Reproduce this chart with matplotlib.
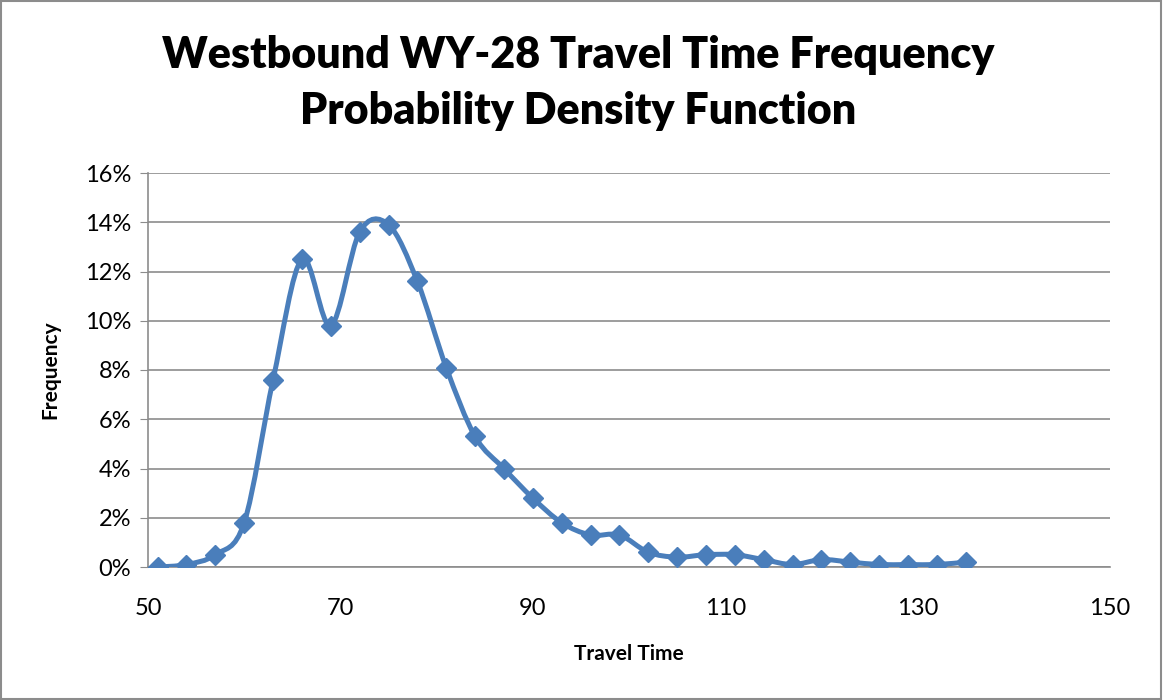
import numpy as np
import matplotlib.pyplot as plt
from matplotlib.path import Path
from matplotlib.patches import PathPatch, Rectangle
from matplotlib.ticker import PercentFormatter

plt.rcParams['font.family'] = ['Lato', 'DejaVu Sans']

# data
travel_time = [51, 54, 57, 60, 63, 66, 69, 72, 75, 78, 81, 84, 87, 90, 93,
               96, 99, 102, 105, 108, 111, 114, 117, 120, 123, 126, 129, 132, 135]
frequency = [0.0, 0.1, 0.5, 1.8, 7.6, 12.5, 9.8, 13.6, 13.9, 11.6, 8.1, 5.3, 4.0, 2.8, 1.8,
             1.3, 1.3, 0.6, 0.4, 0.5, 0.5, 0.3, 0.1, 0.3, 0.2, 0.1, 0.1, 0.1, 0.2]

line_color = '#4a7ebb'


def smooth_path(x, y):
    # Excel style smoothed line: cubic bezier through the points
    pts = np.column_stack([x, y]).astype(float)
    n = len(pts)
    verts = [pts[0]]
    codes = [Path.MOVETO]
    for i in range(n - 1):
        p0 = pts[max(i - 1, 0)]
        p1 = pts[i]
        p2 = pts[i + 1]
        p3 = pts[min(i + 2, n - 1)]
        c1 = p1 + (p2 - p0) / 6.0
        c2 = p2 - (p3 - p1) / 6.0
        verts += [c1, c2, p2]
        codes += [Path.CURVE4] * 3
    return Path(verts, codes)


fig = plt.figure(figsize=(11.63, 7.0), dpi=100)
ax = fig.add_axes([148 / 1163, 1 - 567 / 700, (1110 - 148) / 1163, (567 - 173) / 700])

ax.add_patch(PathPatch(smooth_path(travel_time, frequency), facecolor='none',
                       edgecolor=line_color, lw=3.6, zorder=3, capstyle='round'))
ax.plot(travel_time, frequency, ls='none', marker='D', ms=10.5, color=line_color, zorder=4)

ax.set_xlim(50, 150)
ax.set_ylim(0, 16)
ax.set_xticks(np.arange(50, 151, 20))
ax.set_yticks(np.arange(0, 17, 2))
ax.yaxis.set_major_formatter(PercentFormatter(decimals=0))
ax.grid(axis='y', color='#8c8c8c', lw=1.2)
ax.set_axisbelow(True)
for s in ['top', 'right']:
    ax.spines[s].set_visible(False)
for s in ['left', 'bottom']:
    ax.spines[s].set_color('#8c8c8c')
    ax.spines[s].set_linewidth(1.2)
ax.tick_params(axis='both', length=0, labelsize=17)
ax.tick_params(axis='x', pad=22)
ax.tick_params(axis='y', length=6, color='#8c8c8c', direction='out', pad=6)

ax.set_xlabel('Travel Time', fontsize=15, fontweight='bold', labelpad=18)
ax.set_ylabel('Frequency', fontsize=15, fontweight='bold', labelpad=18)

fig.text(0.497, 1 - 55 / 700, 'Westbound WY-28 Travel Time Frequency', ha='center', va='center',
         fontsize=31, fontweight='heavy')
fig.text(0.497, 1 - 111 / 700, 'Probability Density Function', ha='center', va='center',
         fontsize=31, fontweight='heavy')

fig.patches.append(Rectangle((0.001, 0.001), 0.997, 0.997, transform=fig.transFigure,
                             fill=False, edgecolor='#8c8c8c', lw=1.5))

fig.savefig('out.png', dpi=100)
